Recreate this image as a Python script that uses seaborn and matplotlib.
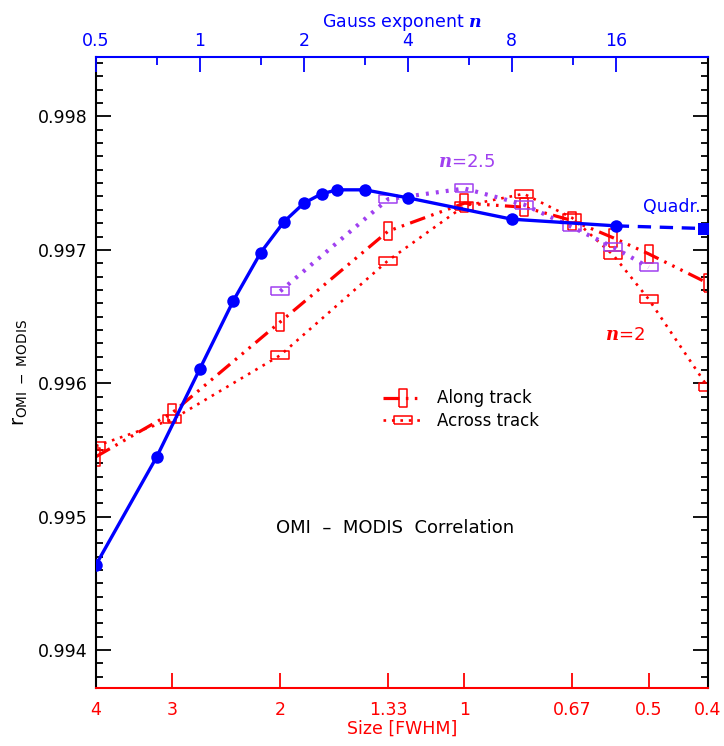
import numpy as np
import matplotlib
matplotlib.use("Agg")
import matplotlib.pyplot as plt
from matplotlib.ticker import FixedLocator, NullLocator, NullFormatter, MultipleLocator, FormatStrFormatter
import seaborn as sns

# Gauss exponent n (top axis)
n_gauss = [0.5, 0.75, 1, 1.25, 1.5, 1.75, 2, 2.25, 2.5, 3, 4, 8, 16]
r_gauss = [0.99464, 0.99545, 0.99611, 0.99662, 0.99698, 0.99721, 0.99735,
           0.99742, 0.99745, 0.99745, 0.99739, 0.99723, 0.99718]
n_quad = [16, 28.8]
r_quad = [0.99718, 0.99716]

# Size [FWHM] (bottom axis)
sizes = [4, 3, 2, 1.333, 1, 0.8, 0.667, 0.571, 0.5, 0.4]
r_along = [0.99545, 0.99578, 0.99646, 0.99714, 0.99735, 0.99732, 0.99722, 0.99709, 0.99697, 0.99675]
r_across = [0.99553, 0.99573, 0.99621, 0.99692, 0.99733, 0.99742, 0.99724, 0.99696, 0.99663, 0.99597]
sizes_25 = [2, 1.333, 1, 0.8, 0.667, 0.571, 0.5]
r_n25 = [0.99669, 0.99738, 0.99746, 0.99734, 0.99717, 0.99702, 0.99687]

size_ticks = [4, 3, 2, 1.333, 1, 0.667, 0.5, 0.4]
size_labels = ['4', '3', '2', '1.33', '1', '0.67', '0.5', '0.4']
n_ticks = [0.5, 1, 2, 4, 8, 16]
n_minor = [0.75, 1.5, 3, 6, 12]

sns.set_style("ticks")
plt.rcParams['font.family'] = ['DejaVu Sans']
plt.rcParams['mathtext.fontset'] = 'dejavuserif'
plt.rcParams['text.color'] = 'black'
plt.rcParams['axes.labelcolor'] = 'black'

RED = '#FF0000'
BLUE = '#0000FF'
PURPLE = '#A040F0'

tall = [(-0.42, -1), (0.42, -1), (0.42, 1), (-0.42, 1), (-0.42, -1)]
wide = [(-1, -0.42), (1, -0.42), (1, 0.42), (-1, 0.42), (-1, -0.42)]

fig = plt.figure(figsize=(7.24, 7.46), dpi=100)
ax = fig.add_axes([0.1326, 0.0777, 0.8453, 0.8458])

# red / purple curves vs size
sns.lineplot(x=sizes, y=r_along, ax=ax, sort=False, color=RED, lw=2.3,
             linestyle=(0, (5, 2, 0.8, 2, 0.8, 2, 0.8, 2)),
             marker=tall, markersize=13.5, markerfacecolor='none',
             markeredgecolor=RED, markeredgewidth=1.1, label='Along track')
sns.lineplot(x=sizes, y=r_across, ax=ax, sort=False, color=RED, lw=1.9,
             linestyle=(0, (1, 2.2)),
             marker=wide, markersize=13.5, markerfacecolor='none',
             markeredgecolor=RED, markeredgewidth=1.1, label='Across track')
sns.lineplot(x=sizes_25, y=r_n25, ax=ax, sort=False, color=PURPLE, lw=3,
             linestyle=(0, (0.7, 1.7)),
             marker=wide, markersize=13.5, markerfacecolor='none',
             markeredgecolor=PURPLE, markeredgewidth=1.1, legend=False)

ax.set_xscale('log')
ax.set_xlim(4, 0.4)
ax.set_ylim(0.993716, 0.998445)
ax.xaxis.set_major_locator(FixedLocator(size_ticks))
ax.xaxis.set_minor_locator(NullLocator())
ax.set_xticklabels(size_labels)
ax.yaxis.set_major_locator(MultipleLocator(0.001))
ax.yaxis.set_minor_locator(MultipleLocator(0.0001))
ax.yaxis.set_major_formatter(FormatStrFormatter('%.3f'))
ax.tick_params(axis='x', which='major', direction='in', length=11, width=1.3,
               colors=RED, labelsize=12.5, pad=9, top=False)
ax.tick_params(axis='y', which='major', direction='in', length=11, width=1.3,
               colors='black', labelsize=12.5, right=True, pad=6)
ax.tick_params(axis='y', which='minor', direction='in', length=5, width=1.3,
               colors='black', right=True)
ax.spines['bottom'].set_color(RED)
ax.spines['left'].set_color('black')
ax.spines['right'].set_color('black')
ax.spines['top'].set_visible(False)
for s in ['bottom', 'left', 'right']:
    ax.spines[s].set_linewidth(1.5)
ax.set_xlabel('Size [FWHM]', color=RED, fontsize=12.5, labelpad=1)
ax.set_ylabel(r'$\mathsf{r}_{\mathsf{OMI\ -\ MODIS}}$', fontsize=14, labelpad=6)

leg = ax.legend(loc='upper left', bbox_to_anchor=(0.445, 0.497), frameon=False,
                fontsize=12, handlelength=2.4, handletextpad=0.8,
                labelspacing=0.25)
for t in leg.get_texts():
    t.set_color('black')

# blue curve vs Gauss exponent
ax2 = ax.twiny()
sns.lineplot(x=n_gauss, y=r_gauss, ax=ax2, sort=False, color=BLUE, lw=2.4,
             marker='o', markersize=9, markeredgewidth=0, legend=False)
sns.lineplot(x=n_quad, y=r_quad, ax=ax2, sort=False, color=BLUE, lw=2.4,
             linestyle=(0, (4, 2.6)), legend=False)
sns.lineplot(x=n_quad[1:], y=r_quad[1:], ax=ax2, color=BLUE, lw=0,
             marker='s', markersize=8, markeredgewidth=0, legend=False)
ax2.set_xscale('log', base=2)
ax2.set_xlim(0.5, 29.6)
ax2.set_ylim(0.993716, 0.998445)
ax2.xaxis.set_major_locator(FixedLocator(n_ticks))
ax2.xaxis.set_minor_locator(FixedLocator(n_minor))
ax2.xaxis.set_minor_formatter(NullFormatter())
ax2.set_xticklabels(['0.5', '1', '2', '4', '8', '16'])
ax2.tick_params(axis='x', which='major', direction='in', length=11, width=1.3,
                colors=BLUE, labelsize=12.5, pad=5)
ax2.tick_params(axis='x', which='minor', direction='in', length=6, width=1.3,
                colors=BLUE)
for s in ['bottom', 'left', 'right']:
    ax2.spines[s].set_visible(False)
ax2.spines['top'].set_color(BLUE)
ax2.spines['top'].set_linewidth(1.5)
ax2.set_xlabel(r'Gauss exponent $\boldsymbol{n}$', color=BLUE, fontsize=12.5, labelpad=4)
ax2.set_ylabel('')

# annotations
ax.text(0.605, 0.834, r'$\boldsymbol{n}$=2.5', transform=ax.transAxes,
        color=PURPLE, fontsize=13, ha='center', va='center')
ax.text(0.864, 0.559, r'$\boldsymbol{n}$=2', transform=ax.transAxes,
        color=RED, fontsize=13, ha='center', va='center')
ax.text(0.941, 0.762, 'Quadr.', transform=ax.transAxes,
        color=BLUE, fontsize=12.5, ha='center', va='center')
ax.text(0.489, 0.254, 'OMI  \u2013  MODIS  Correlation', transform=ax.transAxes,
        color='black', fontsize=13, ha='center', va='center')

fig.savefig('out.png', dpi=100)
